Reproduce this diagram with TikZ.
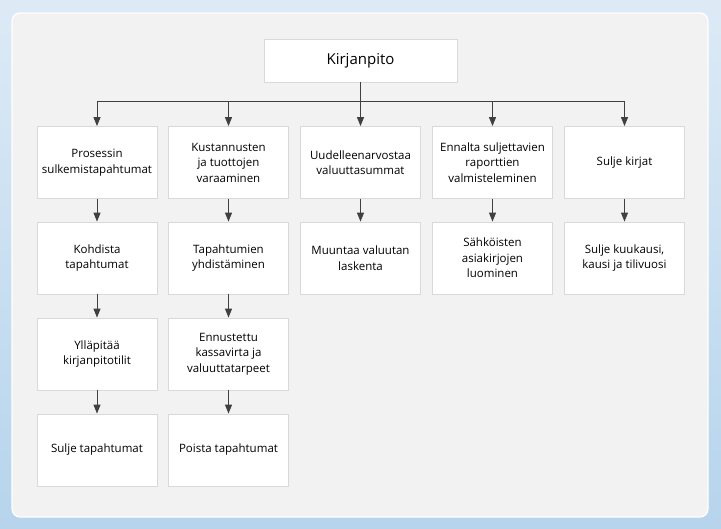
\documentclass[tikz,border=0pt]{standalone}
\usepackage{fontspec}
\setmainfont{Open Sans}
\usepackage{xcolor}
\usepackage{tikz}
\usetikzlibrary{arrows.meta}

\definecolor{frametop}{HTML}{DDEAF6}
\definecolor{framebottom}{HTML}{B6D4EC}
\definecolor{panelgray}{HTML}{F2F2F2}
\definecolor{boxline}{HTML}{D9D9D9}
\definecolor{arrowgray}{HTML}{404040}

\begin{document}
\begin{tikzpicture}[x=1pt,y=-1pt]
            \tikzset{box/.style = {draw=boxline, fill=white, line width=0.8pt, minimum width=120pt, minimum height=72pt, inner sep=2pt, align=center, font=\fontsize{11.5}{15.5}\selectfont}}
            \tikzset{edge/.style = {-{Triangle[width=7pt,length=9pt]}, draw=arrowgray, line width=0.9pt}}

            % frame
            \shade[top color=frametop, bottom color=framebottom] (0,0) rectangle (721,529);
            \draw[white, line width=1.2pt, fill=panelgray, rounded corners=8pt] (12,13) rectangle (708,517);
            \useasboundingbox (0,0) rectangle (721,529);

            % boxes
            \node[box, minimum width=193pt, minimum height=43pt, font=\fontsize{15}{18}\selectfont] (top) at (360.5,60.5) {Kirjanpito};
            \coordinate (bus) at (360.5,101);

            \node[box] (a1) at (97,162.5) {Prosessin\\sulkemistapahtumat};
            \node[box] (a2) at (97,258) {Kohdista\\tapahtumat};
            \node[box] (a3) at (97,354) {Ylläpitää\\kirjanpitotilit};
            \node[box] (a4) at (97,450) {Sulje tapahtumat};

            \node[box] (b1) at (228.5,162.5) {Kustannusten\\ja tuottojen\\varaaminen};
            \node[box] (b2) at (228.5,258) {Tapahtumien\\yhdistäminen};
            \node[box] (b3) at (228.5,354) {Ennustettu\\kassavirta ja\\valuuttatarpeet};
            \node[box] (b4) at (228.5,450) {Poista tapahtumat};

            \node[box] (c1) at (360.5,162.5) {Uudelleenarvostaa\\valuuttasummat};
            \node[box] (c2) at (360.5,258) {Muuntaa valuutan\\laskenta};

            \node[box] (d1) at (492.5,162.5) {Ennalta suljettavien\\raporttien\\valmisteleminen};
            \node[box] (d2) at (492.5,258) {Sähköisten\\asiakirjojen\\luominen};

            \node[box] (e1) at (624.5,162.5) {Sulje kirjat};
            \node[box] (e2) at (624.5,258) {Sulje kuukausi,\\kausi ja tilivuosi};

            % edges
            \foreach \c in {a,b,c,d,e} {\draw[edge] (top.south) -- (bus) -| (\c1.north);}
            \foreach \x/\y in {a1/a2,a2/a3,a3/a4,b1/b2,b2/b3,b3/b4,c1/c2,d1/d2,e1/e2} {\draw[edge] (\x) -- (\y);}

\end{tikzpicture}
\end{document}
